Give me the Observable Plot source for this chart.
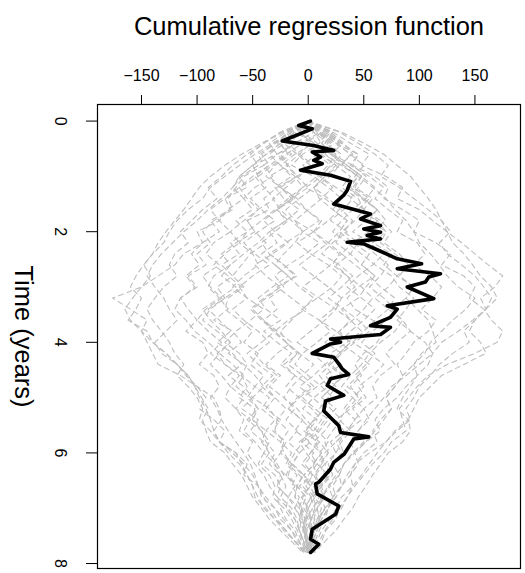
<!DOCTYPE html>
<html>
<head>
<meta charset="utf-8">
<script src="https://cdn.jsdelivr.net/npm/d3@7"></script>
<script src="https://cdn.jsdelivr.net/npm/@observablehq/plot@0.6"></script>
<style>
  html, body { margin: 0; padding: 0; background: #fff; }
</style>
</head>
<body>
<div id="chart"></div>
<script>
// Observed cumulative regression function (time in years, value)
const blackTime = [0,0.08,0.14,0.36,0.44,0.53,0.56,0.65,0.71,0.77,0.89,0.98,1.09,1.25,1.34,1.50,1.59,1.68,1.77,1.89,1.95,2.01,2.07,2.13,2.19,2.22,2.34,2.49,2.58,2.67,2.76,2.82,2.91,3.00,3.21,3.34,3.40,3.55,3.70,3.73,3.86,3.94,4.00,4.03,4.20,4.27,4.39,4.48,4.58,4.66,4.78,4.96,5.06,5.24,5.39,5.51,5.63,5.71,5.75,6.02,6.17,6.29,6.53,6.56,6.74,6.96,7.11,7.38,7.56,7.65,7.80];
const blackValue = [2,-8.5,3.6,-23.4,4.8,23,3.6,11.1,5,12.6,-6.9,20.1,38.1,35.1,32,23,39.6,56,47.1,65.1,50,65.1,53.1,65.1,35.1,50,63.5,80.1,102,80.1,119,108.5,105.5,89.1,113,71.1,80.1,74,56.1,74,65.1,20.1,29.1,20.1,3.6,23,27.5,30.6,36.5,20.1,17.1,32,15.6,14,21.6,27.5,29.1,54.5,41,32.4,23,20.1,9.5,6.6,8.1,27.5,24.6,3.6,2.1,9.5,2.1];

// Simulated processes (grey, dashed), values read approximately on a 0.2-year grid
const grayTimes = [0,0.2,0.4,0.6,0.8,1.0,1.2,1.4,1.6,1.8,2.0,2.2,2.4,2.6,2.8,3.0,3.2,3.4,3.6,3.8,4.0,4.2,4.4,4.6,4.8,5.0,5.2,5.4,5.6,5.8,6.0,6.2,6.4,6.6,6.8,7.0,7.2,7.4,7.6,7.8];
const grayPaths = [
  [0,-20,-35,-28,-50,-62,-55,-75,-88,-80, -100,-95,-112,-120,-135,-150,-176,-160,-145,-150, -140,-128,-118,-110,-100,-92,-98,-85,-75,-80, -65,-55,-58,-45,-42,-30,-25,-15,-10,2],
  [0,22,38,55,48,70,85,80,100,112, 125,138,150,162,175,168,155,160,150,140, 145,130,118,110,100,95,88,92,80,70, 62,55,48,40,35,30,22,15,10,4],
  [0,8,25,45,40,60,72,68,85,100, 95,115,128,120,140,150,145,158,165,175, 170,150,125,108,98,90,82,85,88,75, 68,58,50,42,35,28,25,16,12,5],
  [0,-25,-40,-52,-45,-60,-68,-58,-72,-80, -70,-85,-92,-80,-95,-88,-78,-92,-100,-90, -78,-88,-75,-62,-70,-58,-65,-52,-58,-48, -40,-45,-35,-30,-32,-22,-15,-10,-6,-2],
  [0,5,-12,-25,-18,-10,-28,-40,-35,-55, -48,-65,-78,-70,-85,-90,-80,-95,-88,-78, -70,-82,-75,-60,-55,-62,-48,-50,-42,-38, -30,-35,-25,-20,-25,-15,-10,-8,-4,0],
  [0,15,30,45,38,55,68,60,72,85, 80,98,105,95,110,120,112,102,115,108, 95,88,80,85,78,70,75,65,58,62, 50,42,38,40,30,25,20,12,8,2],
  [0,-10,5,15,28,20,5,-8,-20,-12, -5,10,-2,-18,-30,-22,-35,-28,-40,-32, -20,-10,-18,-5,5,-8,3,12,5,10, 2,8,0,-5,3,-4,2,4,1,1],
  [0,12,-2,10,25,38,30,45,50,42, 30,25,38,48,60,52,45,30,38,48, 35,20,30,15,25,18,10,22,15,5, 12,4,8,2,6,0,-2,-4,-2,0],
  [0,-18,-30,-45,-40,-58,-65,-72,-68,-85, -95,-88,-100,-92,-108,-100,-115,-120,-110,-102, -90,-80,-88,-78,-70,-75,-65,-58,-62,-50, -55,-48,-40,-35,-28,-25,-20,-12,-8,-2],
  [0,18,30,22,40,52,45,38,50,62, 55,48,60,72,65,55,68,78,70,58, 48,60,52,42,50,40,32,42,35,25, 30,22,16,20,12,8,10,5,2,1],
  [0,-5,-20,-38,-50,-45,-62,-75,-70,-88, -80,-95,-105,-98,-110,-102,-115,-108,-100,-110, -95,-90,-98,-85,-80,-88,-82,-78,-72,-65, -58,-52,-48,-45,-38,-30,-22,-15,-8,-4],
  [0,8,22,15,30,45,38,50,62,55, 70,65,78,90,82,95,88,98,108,112, 115,102,95,85,78,70,75,68,60,52, 42,45,38,30,22,18,12,6,2,0],
  [0,-12,-5,-20,-35,-48,-40,-30,-45,-55, -48,-38,-52,-60,-68,-58,-72,-75,-62,-50, -58,-45,-52,-40,-48,-35,-42,-30,-38,-25, -22,-15,-18,-10,-12,-5,-8,-2,0,0],
  [0,18,10,-5,-15,5,18,30,22,35, 28,40,55,48,60,45,35,42,58,68, 62,50,42,48,38,45,35,28,38,30, 25,18,22,12,15,8,10,6,3,2],
  [0,-15,-32,-48,-62,-75,-88,-95,-108,-118, -125,-130,-140,-148,-155,-160,-150,-155,-162,-145, -140,-128,-118,-108,-102,-96,-90,-95,-92,-88, -75,-68,-60,-55,-50,-42,-35,-25,-15,-5],
  [0,30,50,68,80,92,100,108,115,120, 125,130,140,148,155,165,170,160,150,145, 155,160,140,120,110,100,95,90,92,85, 72,65,58,52,45,40,32,25,15,6],
  [0,-22,-42,-60,-75,-88,-98,-105,-112,-120, -128,-135,-140,-148,-142,-150,-158,-165,-160,-150, -145,-140,-135,-115,-100,-85,-80,-78,-85,-80, -65,-60,-55,-50,-45,-40,-30,-20,-12,-3],
  [0,10,25,38,50,42,35,48,62,70, 55,40,30,42,55,65,78,72,60,50, 40,55,48,38,30,40,50,42,35,25, 15,8,18,12,6,12,8,4,2,0],
  [0,-8,-22,-35,-25,-12,-5,-18,-30,-42, -55,-62,-50,-45,-58,-68,-55,-40,-52,-65, -75,-62,-55,-60,-48,-55,-45,-50,-38,-42, -35,-28,-22,-28,-18,-12,-6,-8,-4,-1],
  [0,5,12,22,35,48,60,52,40,30, 22,35,48,60,75,82,95,88,80,92, 105,112,100,88,75,68,60,52,45,50, 40,32,25,18,22,15,10,5,2,1],
  [0,-15,-22,-10,2,-8,-20,-32,-25,-15, -5,-12,-22,-30,-18,-8,5,-5,-15,-25, -20,-8,5,-5,-15,-22,-10,-2,8,-5, -12,-18,-8,2,-5,-8,-3,-5,-2,0],
  [0,20,32,40,28,15,5,10,22,35, 28,18,5,-8,5,18,30,22,10,20, 8,-5,-12,0,12,22,15,5,-2,10, 18,12,5,10,2,6,3,2,2,1],
  [0,-25,-40,-55,-68,-78,-90,-82,-95,-105, -115,-108,-120,-125,-118,-130,-138,-145,-140,-132, -125,-120,-112,-118,-108,-100,-95,-98,-88,-80, -72,-62,-55,-50,-48,-38,-30,-22,-12,-4],
  [0,12,28,20,35,48,42,58,50,65, 75,68,82,90,80,95,88,75,85,92, 80,70,78,65,58,62,50,55,45,38, 42,32,28,22,25,15,10,8,4,2],
  [0,-5,8,20,32,45,58,70,78,88, 95,100,110,118,125,135,150,142,130,120, 110,105,95,98,88,80,68,60,65,52, 40,32,28,30,22,18,12,8,4,2],
  [0,-12,-25,-38,-50,-62,-68,-78,-90,-100, -112,-122,-132,-140,-145,-138,-130,-125,-118,-128, -138,-132,-118,-108,-102,-98,-92,-88,-85,-80, -68,-58,-50,-45,-40,-35,-28,-20,-12,-2],
  [0,20,12,25,18,8,-5,-15,-28,-20, -35,-45,-58,-70,-78,-65,-80,-72,-85,-68, -60,-72,-58,-48,-40,-50,-35,-28,-30,-22, -25,-32,-20,-12,-18,-8,-5,-3,-2,0],
  [0,-18,-28,-15,-30,-38,-25,-10,-2,12, 5,15,28,22,35,42,30,25,38,28, 15,30,20,10,18,5,-5,8,0,-6, 5,-3,4,-8,2,-2,3,-1,-2,0],
  [0,28,45,60,72,65,82,95,108,120, 128,118,125,138,150,158,165,160,148,135, 120,112,108,98,92,85,80,90,78,70, 55,42,35,30,25,18,15,10,6,3],
  [0,-15,-30,-42,-35,-50,-62,-55,-45,-58, -70,-62,-75,-85,-72,-60,-75,-88,-95,-82, -70,-80,-68,-58,-65,-52,-45,-55,-42,-35, -40,-30,-25,-28,-18,-20,-12,-8,-4,-1],
  [0,10,-5,8,20,12,-2,15,28,18, 5,-10,2,18,30,22,8,-6,10,25, 38,28,15,22,8,-5,6,18,10,0, 12,5,-4,6,12,4,-2,3,1,0],
  [0,-8,5,-12,-25,-15,-30,-22,-8,-20, -35,-28,-42,-30,-18,-32,-45,-38,-25,-40, -28,-15,-25,-12,-20,-8,-18,-5,-12,2, -8,-15,-5,-10,-2,-6,0,-3,-1,0],
  [0,15,28,20,35,48,40,55,45,62, 70,58,75,68,80,72,60,72,85,78, 65,55,68,58,45,52,40,48,35,28, 32,22,28,18,12,15,8,5,3,1],
  [0,-18,-10,-28,-40,-32,-48,-58,-50,-65, -55,-70,-62,-78,-68,-82,-75,-90,-80,-70, -82,-68,-60,-72,-58,-50,-60,-45,-52,-40, -35,-42,-30,-25,-28,-18,-12,-8,-5,0],
  [0,5,18,8,-5,10,22,12,0,-12, 5,18,30,20,8,-5,10,25,15,2, -10,4,15,5,-8,4,15,6,-4,8, 2,-6,4,-2,5,0,-3,2,0,0],
  [0,-5,-18,-8,5,-10,-25,-15,-2,10, -5,-20,-35,-22,-10,-28,-15,-2,-18,-30, -20,-8,-22,-12,2,-10,-18,-6,4,-8, -2,6,-4,2,-6,0,3,-2,0,0],
  [0,12,25,38,30,45,35,50,62,52, 40,55,68,58,45,35,48,60,50,38, 28,42,55,45,35,48,38,25,32,20, 25,15,20,10,14,8,5,6,2,1],
  [0,-12,-25,-18,-32,-45,-38,-52,-42,-30, -45,-58,-48,-35,-50,-62,-55,-68,-58,-45, -35,-48,-40,-28,-38,-30,-20,-28,-18,-25, -15,-20,-10,-15,-8,-12,-5,-4,-2,0],
  [0,8,20,12,25,15,5,18,30,40, 32,45,38,25,35,48,58,50,40,28, 38,28,18,30,22,12,20,30,22,15, 18,10,15,5,10,4,6,2,1,0],
  [0,-10,2,-8,-20,-10,0,-15,-28,-18, -30,-42,-35,-22,-12,-25,-38,-50,-40,-28, -15,-28,-38,-25,-35,-22,-12,-20,-10,-18, -8,-14,-4,-10,-2,-6,-3,-4,-1,0],
  [0,22,15,30,22,10,25,40,32,20, 35,22,12,28,40,30,18,32,45,55, 42,30,20,32,22,12,25,15,8,18, 10,15,6,12,4,8,2,4,1,1],
  [0,-20,-12,-28,-18,-35,-25,-12,-28,-40, -30,-18,-32,-48,-38,-25,-40,-52,-42,-30, -42,-55,-45,-32,-42,-30,-38,-25,-32,-20, -25,-15,-20,-10,-12,-6,-8,-4,-2,0]
];

const xTicks = [-150,-100,-50,0,50,100,150];
const yTicks = [0,2,4,6,8];
const xTitle = "Cumulative regression function";
const yTitle = "Time (years)";

const blackData = blackTime.map((t, i) => ({t, v: blackValue[i]}));
const grayData = grayPaths.flatMap((p, k) =>
  p.map((v, i) => ({t: grayTimes[i], v, id: k})).filter(d => d.t !== undefined));

const chart = Plot.plot({
  width: 525,
  height: 573,
  marginTop: 104,
  marginLeft: 97,
  marginRight: 5,
  marginBottom: 5,
  style: {fontFamily: "'Liberation Sans', Arial, Helvetica, sans-serif", background: "#fff"},
  x: {domain: [-189.6, 191], axis: null},
  y: {domain: [-0.30, 8.09], reverse: true, axis: null},
  marks: [
    Plot.line(grayData, {x: "v", y: "t", z: "id", stroke: "#BEBEBE", strokeWidth: 1.1, strokeDasharray: "5,4", curve: "linear"}),
    Plot.line(blackData, {x: "v", y: "t", stroke: "#000", strokeWidth: 3.6, strokeLinejoin: "round", strokeLinecap: "round"}),
    Plot.frame({stroke: "#000", strokeWidth: 1.2}),
    Plot.axisX({anchor: "top", ticks: xTicks, tickSize: 10, tickPadding: 14, label: null, fontSize: 16, tickFormat: d => d < 0 ? "\u2212" + Math.abs(d) : String(d)}),
    Plot.axisY({anchor: "left", ticks: yTicks, tickSize: 11, tickPadding: 26, tickRotate: 90, textAnchor: "middle", lineAnchor: "middle", label: null, fontSize: 16}),
    Plot.text([xTitle], {frameAnchor: "top", text: d => d, dy: -70, lineAnchor: "bottom", fontSize: 25.5, fill: "#000"}),
    Plot.text([yTitle], {frameAnchor: "left", text: d => d, dx: -74, rotate: 90, textAnchor: "middle", lineAnchor: "middle", fontSize: 25.5, fill: "#000"})
  ]
});
document.getElementById("chart").appendChild(chart);
</script>
</body>
</html>
